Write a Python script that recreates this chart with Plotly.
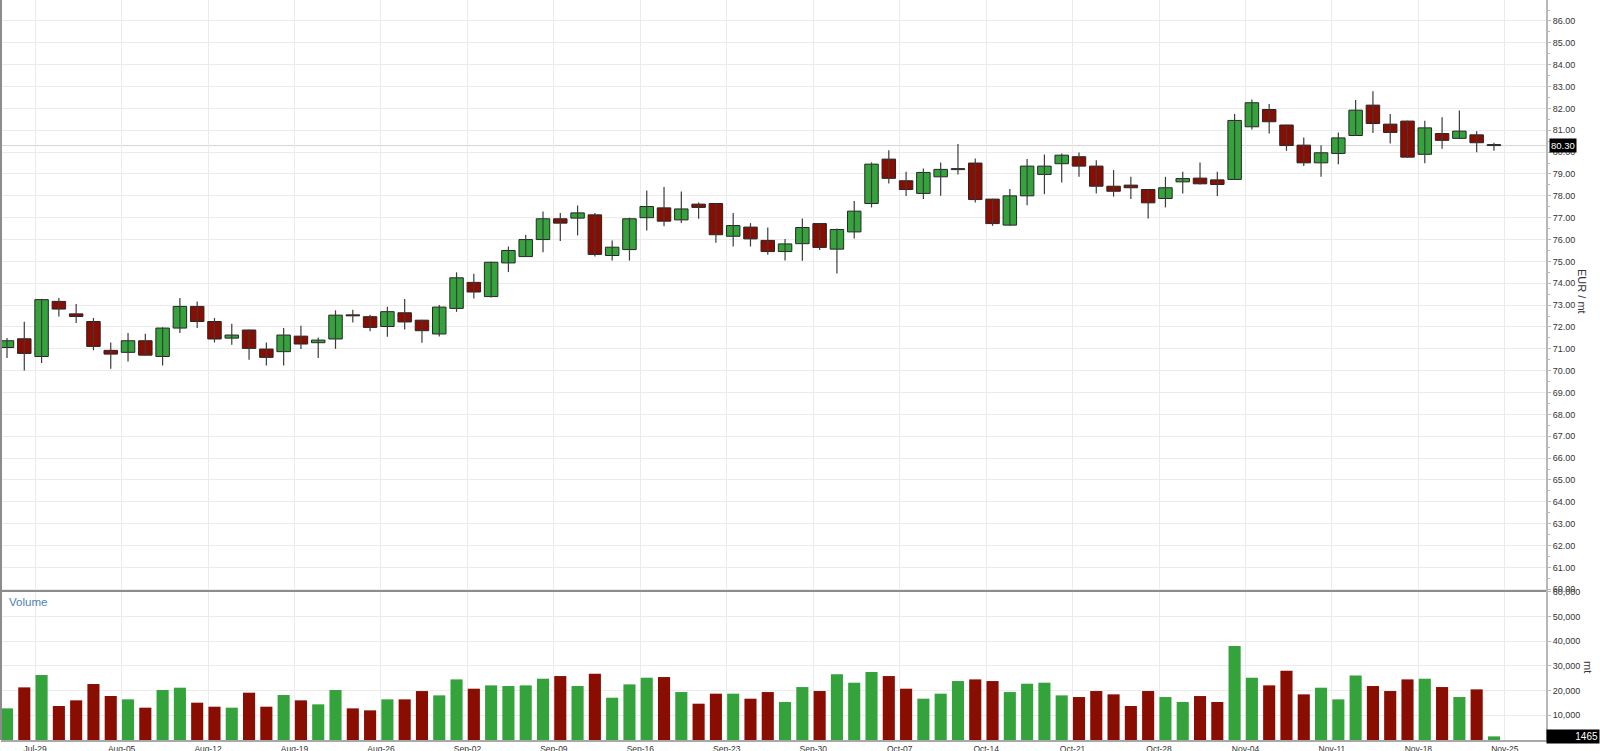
import pandas as pd
import plotly.graph_objects as go

# ---------------- data ----------------
dates = pd.bdate_range("2019-07-25", "2019-11-22")  # 87 trading days

opens = [71.06, 71.46, 70.65, 73.17, 72.60, 72.25, 70.93, 70.84, 71.37, 70.65,
         71.95, 72.94, 72.25, 71.49, 71.86, 70.99, 70.87, 71.58, 71.28, 71.45,
         72.53, 72.47, 72.02, 72.65, 72.31, 71.68, 72.85, 74.04, 73.39, 74.93,
         75.22, 76.00, 76.95, 76.98, 77.13, 75.27, 75.54, 77.00, 77.45, 76.90,
         77.62, 77.65, 76.15, 76.57, 75.96, 75.45, 75.81, 76.73, 75.56, 76.35,
         77.65, 79.68, 78.69, 78.11, 78.87, 79.20, 79.50, 77.85, 76.66, 78.00,
         78.98, 79.47, 79.79, 79.36, 78.44, 78.49, 78.29, 77.88, 78.64, 78.81,
         78.73, 78.75, 81.16, 81.95, 81.24, 80.32, 79.51, 79.94, 80.76, 82.15,
         81.28, 81.42, 79.90, 80.85, 80.63, 80.79, 80.30]
highs = [71.49, 72.24, 73.29, 73.32, 73.05, 72.41, 71.29, 71.72, 71.69, 71.99,
         73.32, 73.17, 72.41, 72.15, 71.88, 71.29, 71.95, 72.06, 71.52, 72.76,
         72.79, 72.56, 72.93, 73.28, 72.33, 73.00, 74.50, 74.43, 74.98, 75.68,
         76.22, 77.28, 77.21, 77.56, 77.21, 75.96, 77.00, 78.24, 78.40, 78.20,
         77.70, 77.67, 77.21, 76.75, 76.55, 76.03, 76.96, 76.75, 76.51, 77.76,
         79.53, 80.09, 79.10, 79.25, 79.53, 80.37, 79.71, 77.87, 78.31, 79.68,
         79.89, 79.94, 79.98, 79.63, 79.18, 78.87, 78.31, 78.87, 79.10, 79.53,
         79.10, 81.74, 82.41, 82.20, 81.26, 80.67, 80.32, 80.90, 82.38, 82.79,
         81.74, 81.44, 81.43, 81.59, 81.90, 80.96, 80.43]
lows = [70.58, 70.01, 70.35, 72.48, 72.18, 70.93, 70.09, 70.42, 70.68, 70.24,
        71.72, 71.95, 71.29, 71.19, 70.50, 70.24, 70.24, 70.99, 70.58, 71.00,
        72.21, 71.80, 71.55, 71.89, 71.28, 71.56, 72.69, 73.30, 73.35, 74.51,
        75.20, 75.42, 75.93, 76.19, 75.22, 75.04, 75.04, 76.41, 76.61, 76.76,
        76.95, 75.85, 75.68, 75.68, 75.30, 75.04, 75.03, 75.52, 74.45, 76.05,
        77.47, 78.57, 77.99, 77.85, 78.00, 78.98, 77.70, 76.63, 76.63, 77.57,
        78.08, 78.61, 78.87, 78.11, 77.96, 77.85, 76.96, 77.47, 78.11, 78.52,
        77.99, 78.73, 81.04, 80.85, 80.06, 79.36, 78.87, 79.45, 80.74, 80.88,
        80.40, 79.74, 79.49, 80.15, 80.62, 79.99, 80.06]
closes = [71.37, 70.79, 73.25, 72.82, 72.48, 71.11, 70.76, 71.37, 70.71, 71.95,
          72.94, 72.25, 71.45, 71.63, 71.02, 70.61, 71.63, 71.22, 71.40, 72.54,
          72.51, 71.98, 72.70, 72.23, 71.83, 72.91, 74.25, 73.60, 74.96, 75.50,
          76.00, 76.95, 76.75, 77.22, 75.32, 75.65, 76.95, 77.51, 76.84, 77.40,
          77.47, 76.22, 76.64, 76.03, 75.45, 75.80, 76.55, 75.64, 76.46, 77.30,
          79.45, 78.80, 78.29, 79.07, 79.21, 79.22, 77.83, 76.73, 78.00, 79.36,
          79.36, 79.86, 79.36, 78.44, 78.21, 78.37, 77.68, 78.37, 78.79, 78.55,
          78.52, 81.45, 82.26, 81.39, 80.30, 79.51, 79.97, 80.65, 81.92, 81.31,
          80.90, 79.77, 81.11, 80.54, 80.96, 80.43, 80.30]
volumes = [12800, 21300, 26300, 13750, 16050, 22650, 17800, 16450, 13080, 20230,
           21170, 15100, 13480, 13080, 19150, 13480, 18200, 16050, 14430, 20230,
           12800, 12000, 16450, 16450, 19800, 18060, 24530, 20760, 22110, 21840,
           22110, 24800, 25880, 21840, 26830, 17120, 22510, 25210, 25480, 19410,
           14690, 18740, 18740, 16720, 19410, 15370, 21430, 19820, 26560, 23190,
           27500, 25880, 20760, 16720, 18740, 23860, 24530, 23860, 19410, 22780,
           23190, 18060, 17390, 19820, 18470, 13750, 19820, 17390, 15370, 17790,
           15370, 38010, 25210, 22110, 28040, 18470, 21160, 16450, 26150, 21840,
           19820, 24530, 24800, 21430, 17390, 20490, 1465]
week_labels = ["Jul-29", "Aug-05", "Aug-12", "Aug-19", "Aug-26", "Sep-02", "Sep-09",
               "Sep-16", "Sep-23", "Sep-30", "Oct-07", "Oct-14", "Oct-21", "Oct-28",
               "Nov-04", "Nov-11", "Nov-18", "Nov-25"]
price_ticks = list(range(60, 87))
volume_ticks = [10000, 20000, 30000, 40000, 50000, 60000]
last_price = 80.30
last_volume = 1465

# ---------------- styling ----------------
GREEN = "#35a33c"
RED = "#8a0d02"
GRID = "#ebebeb"
FONT = "Liberation Sans, Arial, sans-serif"

n = len(dates)
idx = list(range(n))
# position of each weekly label: the Monday index (Nov-25 is one step past the last bar)
all_days = list(pd.bdate_range(dates[0], "2019-11-25"))
week_pos = []
for lab in week_labels:
    for k, d in enumerate(all_days):
        if d.strftime("%b-%d") == lab:
            week_pos.append(k - 0.37)
            break

up = [c >= o for o, c in zip(opens, closes)]
colors = [GREEN if u else RED for u in up]
bases = [min(o, c) for o, c in zip(opens, closes)]
heights = [max(abs(c - o), 0.045) for o, c in zip(opens, closes)]

wx, wy = [], []
for i in idx:
    wx += [i, i, None]
    wy += [lows[i], highs[i], None]

fig = go.Figure()
fig.add_trace(go.Scatter(x=wx, y=wy, mode="lines", line=dict(color="#3c3c3c", width=1.2),
                         xaxis="x2", yaxis="y", hoverinfo="skip", showlegend=False))
fig.add_trace(go.Bar(x=idx, y=heights, base=bases, width=0.78,
                     marker=dict(color=colors, line=dict(color="#262626", width=1)),
                     xaxis="x2", yaxis="y", showlegend=False))
fig.add_trace(go.Bar(x=idx, y=volumes, width=0.70,
                     marker=dict(color=colors, line=dict(width=0)),
                     xaxis="x", yaxis="y2", showlegend=False))

split = 149 / 740
xr = [-0.347, 89.01]
axis_font = dict(family=FONT, size=9, color="#333333")

fig.update_layout(
    template="none",
    width=1600, height=751,
    margin=dict(l=1, r=54, t=0, b=11),
    paper_bgcolor="white", plot_bgcolor="white",
    showlegend=False,
    xaxis=dict(domain=[0, 1], anchor="y2", range=xr, tickmode="array",
               tickvals=week_pos, ticktext=week_labels, showgrid=True, gridcolor=GRID,
               gridwidth=1, zeroline=False, showline=True, linecolor="#a8a8a8", linewidth=2,
               ticks="", tickfont=dict(family=FONT, size=8.5, color="#333333"), automargin=False),
    xaxis2=dict(domain=[0, 1], anchor="y", matches="x", range=xr, tickmode="array",
                tickvals=week_pos, showticklabels=False, showgrid=True, gridcolor=GRID,
                zeroline=False, showline=False, ticks="", automargin=False),
    yaxis=dict(domain=[split, 1], anchor="x2", side="right", range=[59.92, 86.96],
               tickmode="array", tickvals=price_ticks, tickformat=".2f",
               showgrid=True, gridcolor=GRID, zeroline=False, showline=True,
               linecolor="#b8b8b8", linewidth=2, ticks="outside", ticklen=3,
               tickcolor="#b8b8b8", tickfont=axis_font, automargin=False,
               minor=dict(tickvals=[p + 0.5 for p in price_ticks], ticks="outside",
                          ticklen=2, tickcolor="#b8b8b8", showgrid=False)),
    yaxis2=dict(domain=[0, split], anchor="x", side="right", range=[0, 60300],
                tickmode="array", tickvals=volume_ticks, tickformat=",",
                showgrid=True, gridcolor=GRID, zeroline=False, showline=True,
                linecolor="#b8b8b8", linewidth=2, ticks="outside", ticklen=3,
                tickcolor="#b8b8b8", tickfont=axis_font, automargin=False),
    shapes=[
        dict(type="line", xref="paper", yref="y", x0=0, x1=1, y0=last_price, y1=last_price,
             line=dict(color="#d6d6d6", width=1), layer="below"),
        dict(type="line", xref="paper", yref="paper", x0=0, x1=1, y0=split, y1=split,
             line=dict(color="#8c8c8c", width=2)),
        dict(type="line", xref="paper", yref="paper", x0=0, x1=0, y0=0, y1=1,
             line=dict(color="#8c8c8c", width=2)),
    ],
    annotations=[
        dict(text="Volume", xref="paper", yref="paper", x=0.004, y=split - 0.004,
             xanchor="left", yanchor="top", showarrow=False,
             font=dict(family=FONT, size=11.5, color="#4a7ebb")),
        dict(text="EUR / mt", xref="paper", yref="paper", x=(1582 - 1) / 1545, y=1 - 291 / 740,
             xanchor="center", yanchor="middle", textangle=90, showarrow=False,
             font=dict(family=FONT, size=11, color="#333333")),
        dict(text="mt", xref="paper", yref="paper", x=(1588 - 1) / 1545, y=1 - 667 / 740,
             xanchor="center", yanchor="middle", textangle=90, showarrow=False,
             font=dict(family=FONT, size=11, color="#333333")),
        dict(text=f"{last_price:.2f}", xref="paper", yref="y", x=(1549 - 1) / 1545, y=last_price,
             xanchor="left", yanchor="middle", showarrow=False, bgcolor="black",
             borderpad=1, font=dict(family=FONT, size=9.5, color="white")),
        dict(text=f"{last_volume}", xref="paper", yref="y2", x=(1600 - 1) / 1545, y=last_volume,
             xanchor="right", yanchor="middle", showarrow=False, bgcolor="black",
             width=50, align="right", borderpad=1,
             font=dict(family=FONT, size=10, color="white")),
    ],
)

fig.write_html(
    "out.html",
    config={"displayModeBar": False},
    post_script="document.body.style.margin='0';document.body.style.overflow='hidden';",
)
